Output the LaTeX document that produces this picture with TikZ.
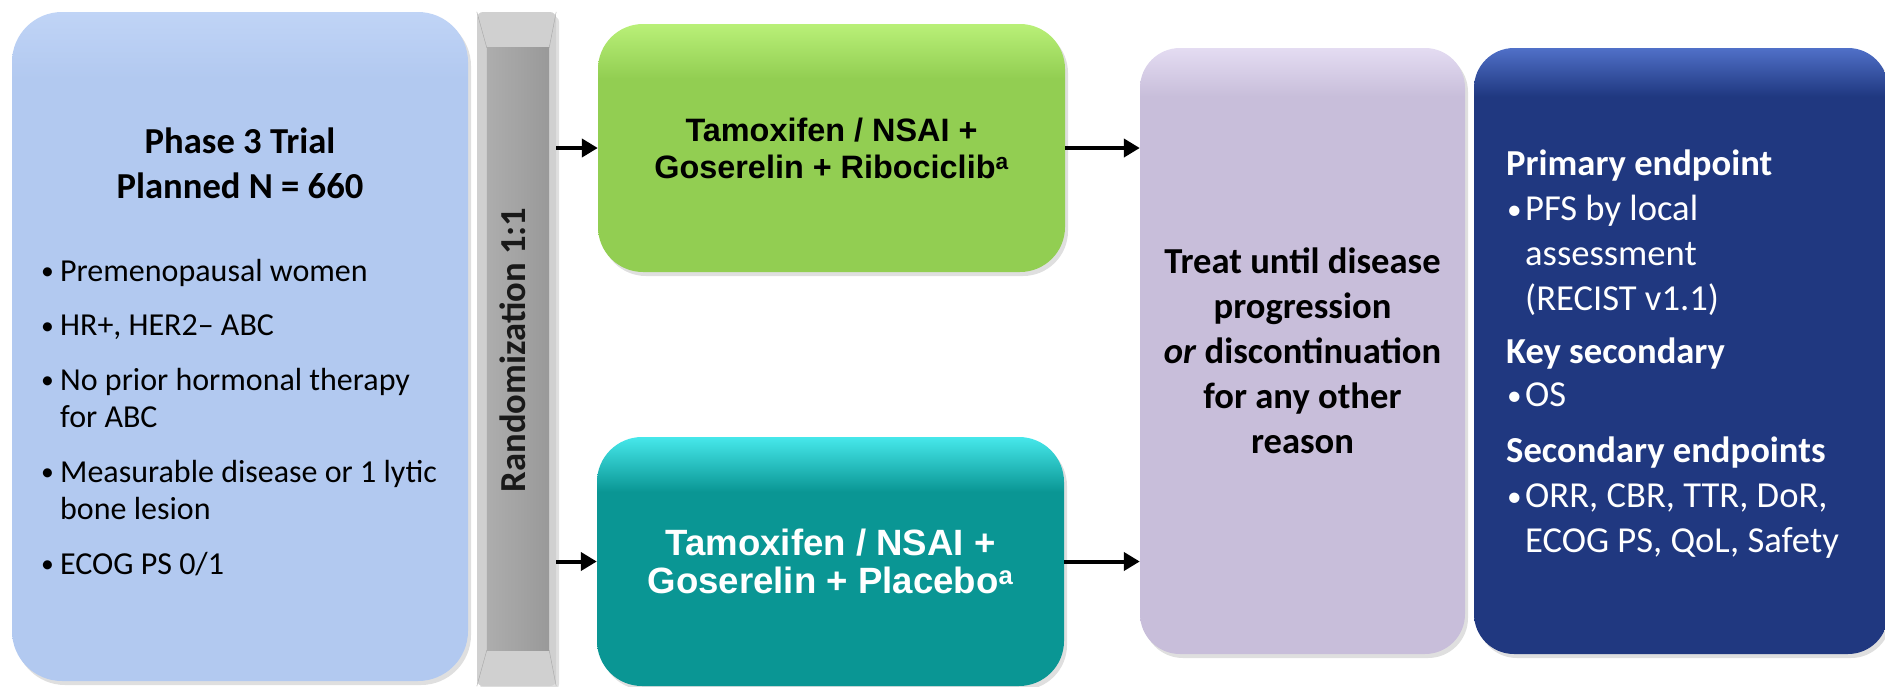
\documentclass[tikz,border=0pt]{standalone}
\usepackage{fontspec}
\setmainfont{Carlito}
\newfontfamily\armfamily{Liberation Sans}
\usetikzlibrary{arrows.meta,shadows,calc,positioning}

\definecolor{popblue}{RGB}{178,201,240}
\definecolor{popbluehi}{RGB}{192,212,246}
\definecolor{randgray}{RGB}{208,208,208}
\definecolor{randdark}{RGB}{153,153,153}
\definecolor{ribogreen}{RGB}{146,206,82}
\definecolor{ribogreenhi}{RGB}{185,240,120}
\definecolor{placteal}{RGB}{10,150,148}
\definecolor{plactealhi}{RGB}{70,232,235}
\definecolor{treatlilac}{RGB}{200,190,218}
\definecolor{treatlilachi}{RGB}{228,220,242}
\definecolor{endnavy}{RGB}{32,56,128}
\definecolor{endnavyhi}{RGB}{80,112,200}

% highlight only near the top edge
\pgfdeclareverticalshading{popshade}{100bp}{color(0bp)=(popblue); color(70bp)=(popblue); color(75bp)=(popbluehi); color(100bp)=(popbluehi)}
\pgfdeclareverticalshading{riboshade}{100bp}{color(0bp)=(ribogreen); color(64bp)=(ribogreen); color(75bp)=(ribogreenhi); color(100bp)=(ribogreenhi)}
\pgfdeclareverticalshading{placshade}{100bp}{color(0bp)=(placteal); color(64bp)=(placteal); color(75bp)=(plactealhi); color(100bp)=(plactealhi)}
\pgfdeclareverticalshading{treatshade}{100bp}{color(0bp)=(treatlilac); color(71bp)=(treatlilac); color(75bp)=(treatlilachi); color(100bp)=(treatlilachi)}
\pgfdeclareverticalshading{endshade}{100bp}{color(0bp)=(endnavy); color(71bp)=(endnavy); color(75bp)=(endnavyhi); color(100bp)=(endnavyhi)}

\newcommand\popfont{\fontsize{32}{37.5}\selectfont}
\newcommand\headfont{\fontsize{36.6}{45}\selectfont}
\newcommand\bul[1]{\makebox[#1][l]{\hspace{1pt}\raisebox{1.5pt}{\scalebox{0.8}{•}}}}

\begin{document}
\begin{tikzpicture}[x=1pt,y=-1pt,
	box/.style={rounded corners=#1,inner sep=0pt,
		drop shadow={shadow xshift=3pt,shadow yshift=-4pt,opacity=0.25}},
	arm/.style={line width=4pt,-{Triangle[length=16pt,width=18pt]}}]

	\useasboundingbox (0,0) rectangle (1885,686);
	\clip (0,0) rectangle (1885,686);

	% population
	\node[box=50,minimum width=456pt,minimum height=669pt,shading=popshade] (pop) at (240,346.5) {};
	\node[font=\headfont\bfseries,align=center] (title) at (240,163)
		{Phase 3 Trial\\Planned N = 660};
	\node[font=\popfont,align=left,anchor=north west,inner sep=0pt] (crit) at (40,259)
		{\bul{20pt}Premenopausal women\\[17pt]
		 \bul{20pt}HR+, HER2– ABC\\[17pt]
		 \bul{20pt}No prior hormonal therapy\\
		 \hspace*{20pt}for ABC\\[17pt]
		 \bul{20pt}Measurable disease or 1 lytic\\
		 \hspace*{20pt}bone lesion\\[17pt]
		 \bul{20pt}ECOG PS 0/1};

	% randomization bar
	\node[box=6,minimum width=79pt,minimum height=674pt,fill=randgray] (rand) at (516.5,349) {};
	\fill[left color=randdark!80!white,right color=randdark]
		($(rand.north west)+(10,36)$) rectangle ($(rand.south east)+(-7,-36)$);
	\draw[gray!70] (rand.north west) -- ($(rand.north west)+(10,36)$);
	\draw[gray!70] (rand.north east) -- ($(rand.north east)+(-7,36)$);
	\draw[gray!70] (rand.south west) -- ($(rand.south west)+(10,-36)$);
	\draw[gray!70] (rand.south east) -- ($(rand.south east)+(-7,-36)$);
	\node[font=\headfont\bfseries,text=black!90,rotate=90] (randtxt) at (513,350)
		{Randomization 1:1};

	% arms
	\node[box=45,minimum width=467pt,minimum height=248pt,shading=riboshade,
		font=\armfamily\fontsize{32.4}{37}\selectfont\bfseries,align=center] (ribo) at (831.5,148)
		{Tamoxifen / NSAI +\\Goserelin + Ribociclib\textsuperscript{a}};
	\node[box=45,minimum width=467pt,minimum height=249pt,shading=placshade,text=white,
		font=\armfamily\fontsize{36.6}{38}\selectfont\bfseries,align=center] (plac) at (830.5,561.5)
		{Tamoxifen / NSAI +\\Goserelin + Placebo\textsuperscript{a}};

	% treatment
	\node[box=40,minimum width=325pt,minimum height=606pt,shading=treatshade,
		font=\headfont\bfseries,align=center] (treat) at (1302.5,351)
		{Treat until disease\\progression\\\textit{or} discontinuation\\for any other\\reason};

	% endpoints
	\node[box=40,minimum width=414pt,minimum height=606pt,shading=endshade] (ends) at (1681,351) {};
	\node[font=\headfont,text=white,align=left,anchor=north west,inner sep=0pt] (endtxt) at (1506,150)
		{\textbf{Primary endpoint}\\
		 \bul{19pt}PFS by local\\
		 \hspace*{19pt}assessment\\
		 \hspace*{19pt}(RECIST v1.1)\\[8pt]
		 \textbf{Key secondary}\\[-2pt]
		 \bul{19pt}OS\\[11pt]
		 \textbf{Secondary endpoints}\\
		 \bul{19pt}ORR, CBR, TTR, DoR,\\
		 \hspace*{19pt}ECOG PS, QoL, Safety};

	\draw[arm] (rand.east |- ribo.west) -- (ribo.west);
	\draw[arm] (rand.east |- plac.west) -- (plac.west);
	\draw[arm] (ribo.east) -- (treat.west |- ribo.east);
	\draw[arm] (plac.east) -- (treat.west |- plac.east);
\end{tikzpicture}
\end{document}
